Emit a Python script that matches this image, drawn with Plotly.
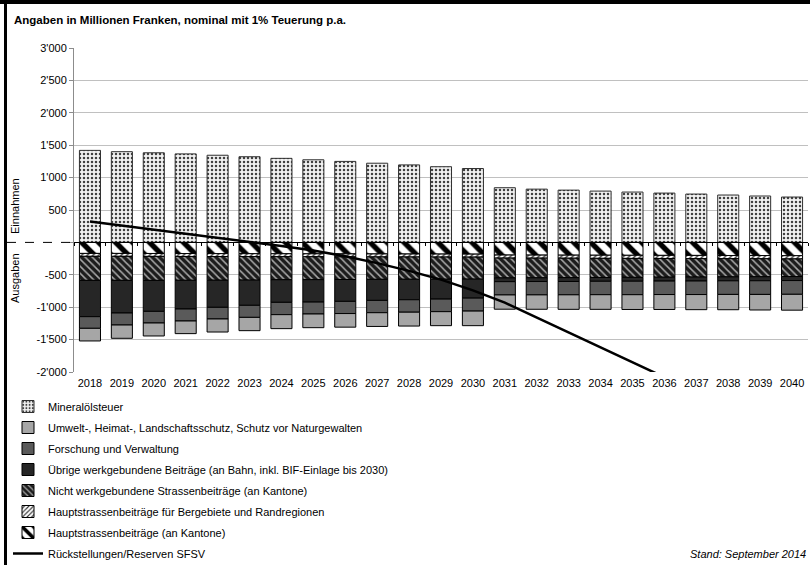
import plotly.graph_objects as go

# ---------------- data ----------------
years = [str(y) for y in range(2018, 2041)]

mineraloelsteuer = [1420, 1400, 1383, 1366, 1345, 1322, 1297, 1275, 1250, 1222, 1196, 1168, 1140,
                    844, 822, 807, 792, 777, 761, 746, 731, 716, 700]

hauptstrassen = [-170, -170, -171, -172, -173, -174, -175, -176, -177, -178, -179, -180, -181,
                 -195, -196, -197, -198, -199, -200, -201, -202, -203, -205]

bergebiete = [-45, -45, -45, -45, -45, -45, -45, -45, -46, -46, -46, -46, -46,
              -47, -47, -47, -48, -48, -48, -49, -49, -49, -50]

nicht_werkgebunden = [-371, -371, -370, -368, -366, -363, -356, -354, -349, -346, -344, -342, -340,
                      -306, -303, -300, -295, -292, -289, -285, -281, -278, -272]

uebrige_werkgebunden = [-560, -504, -478, -443, -418, -389, -349, -346, -338, -325, -316, -307, -293,
                        -58, -58, -59, -59, -60, -60, -61, -61, -62, -62]

forschung = [-180, -185, -180, -185, -180, -186, -190, -184, -188, -190, -192, -194, -200,
             -205, -206, -206, -207, -208, -208, -209, -210, -211, -212]

umwelt = [-195, -205, -200, -195, -201, -205, -216, -211, -210, -212, -214, -216, -225,
          -220, -222, -224, -226, -228, -230, -233, -236, -240, -245]

rueckstellungen = [324, 262, 198, 135, 70, 8, -57, -125, -215, -320, -440, -575, -740,
                   -930, -1160, -1390, -1620, -1850, -2080, None, None, None, None]

y_tickvals = [-2000, -1500, -1000, -500, 0, 500, 1000, 1500, 2000, 2500, 3000]
y_ticktext = ["-2'000", "-1'500", "-1'000", "-500", "", "500", "1'000", "1'500", "2'000", "2'500", "3'000"]

# ---------------- layout helpers ----------------
W, H = 810, 573
L, R, T = 74, 2, 48
PLOT_BOTTOM = 372
B = H - PLOT_BOTTOM
PW = W - L - R
PH = H - T - B


def px_x(px):
    return (px - L) / PW


def px_y(py):
    return (PLOT_BOTTOM - py) / PH


FONT = "Liberation Sans, Arial, sans-serif"
OUT = dict(color="black", width=1)

fig = go.Figure()

fig.add_trace(go.Bar(
    x=years, y=mineraloelsteuer, name="Mineralölsteuer", legendrank=1, legendgroup="g1",
    marker=dict(color="#f0f0f0", line=dict(color="#303030", width=1),
                pattern=dict(shape=".", bgcolor="#f2f2f2", fgcolor="#404040", size=4, solidity=0.3,
                             fillmode="replace"))))

fig.add_trace(go.Bar(
    x=years, y=hauptstrassen, name="Hauptstrassenbeiträge (an Kantone)", legendrank=7, legendgroup="g7",
    marker=dict(color="white", line=OUT,
                pattern=dict(shape="\\", bgcolor="white", fgcolor="black", size=12, solidity=0.45,
                             fillmode="replace"))))

fig.add_trace(go.Bar(
    x=years, y=bergebiete, name="Hauptstrassenbeiträge für Bergebiete und Randregionen", legendrank=6,
    legendgroup="g6",
    marker=dict(color="white", line=OUT,
                pattern=dict(shape="/", bgcolor="white", fgcolor="#303030", size=4, solidity=0.35,
                             fillmode="replace"))))

fig.add_trace(go.Bar(
    x=years, y=nicht_werkgebunden, name="Nicht werkgebundene Strassenbeiträge (an Kantone)", legendrank=5,
    legendgroup="g5",
    marker=dict(color="#202020", line=OUT,
                pattern=dict(shape="\\", bgcolor="#1c1c1c", fgcolor="#a8a8a8", size=5, solidity=0.3,
                             fillmode="replace"))))

fig.add_trace(go.Bar(
    x=years, y=uebrige_werkgebunden,
    name="Übrige werkgebundene Beiträge (an Bahn, inkl. BIF-Einlage bis 2030)", legendrank=4, legendgroup="g4",
    marker=dict(color="#262626", line=OUT)))

fig.add_trace(go.Bar(
    x=years, y=forschung, name="Forschung und Verwaltung", legendrank=3, legendgroup="g3",
    marker=dict(color="#5a5a5a", line=OUT)))

fig.add_trace(go.Bar(
    x=years, y=umwelt, name="Umwelt-, Heimat-, Landschaftsschutz, Schutz vor Naturgewalten", legendrank=2,
    legendgroup="g2",
    marker=dict(color="#a6a6a6", line=OUT)))

fig.add_trace(go.Scatter(
    x=years, y=rueckstellungen, name="Rückstellungen/Reserven SFSV", legendrank=8, legendgroup="g8",
    mode="lines", line=dict(color="black", width=2.5)))

fig.update_layout(
    width=W, height=H, autosize=False,
    margin=dict(l=L, r=R, t=T, b=B, pad=0),
    paper_bgcolor="white", plot_bgcolor="white",
    barmode="relative", bargap=0.34,
    font=dict(family=FONT, size=11, color="black"),
    showlegend=True,
    legend=dict(x=px_x(8), y=px_y(392), xanchor="left", yanchor="top",
                bgcolor="rgba(0,0,0,0)", borderwidth=0, tracegroupgap=2,
                font=dict(family=FONT, size=11, color="black")),
    xaxis=dict(type="category", anchor="free", position=0.4,
               showline=True, linecolor="black", linewidth=1,
               ticks="outside", ticklen=3, tickcolor="black", tickson="boundaries",
               showgrid=False, ticklabelstandoff=130, tickangle=0,
               tickfont=dict(family=FONT, size=11, color="black")),
    yaxis=dict(range=[-2000, 3000], tickvals=y_tickvals, ticktext=y_ticktext,
               showgrid=True, gridcolor="#c0c0c0", gridwidth=1,
               showline=True, linecolor="#8c8c8c", linewidth=1,
               ticks="outside", ticklen=4, tickcolor="#8c8c8c",
               zeroline=False,
               tickfont=dict(family=FONT, size=11, color="black")),
)

annotations = [
    dict(text="<b>Angaben in Millionen Franken, nominal mit 1% Teuerung p.a.</b>",
         x=px_x(12), y=px_y(20), xref="paper", yref="paper", xanchor="left", yanchor="middle",
         showarrow=False, font=dict(family=FONT, size=11.5, color="black")),
    dict(text="Einnahmen", x=px_x(15), y=px_y(206), xref="paper", yref="paper", textangle=-90,
         xanchor="center", yanchor="middle", showarrow=False, font=dict(family=FONT, size=11, color="black")),
    dict(text="Ausgaben", x=px_x(15), y=px_y(278), xref="paper", yref="paper", textangle=-90,
         xanchor="center", yanchor="middle", showarrow=False, font=dict(family=FONT, size=11, color="black")),
    dict(text="<i>Stand: September 2014</i>", x=px_x(808), y=px_y(554), xref="paper", yref="paper",
         xanchor="right", yanchor="middle", showarrow=False, font=dict(family=FONT, size=11, color="black")),
]
fig.update_layout(annotations=annotations)

shapes = [
    # dashed separator left of the axis at zero
    dict(type="line", xref="paper", yref="y", x0=px_x(7), x1=0, y0=0, y1=0,
         line=dict(color="black", width=1, dash="dash")),
    # frame: top and left
    dict(type="line", xref="paper", yref="paper", x0=px_x(0), x1=px_x(W), y0=px_y(2), y1=px_y(2),
         line=dict(color="black", width=4)),
    dict(type="line", xref="paper", yref="paper", x0=px_x(5.5), x1=px_x(5.5), y0=px_y(0), y1=px_y(H),
         line=dict(color="black", width=3)),
]
fig.update_layout(shapes=shapes)

fig.write_html("out.html", config=dict(displayModeBar=False, responsive=False),
               post_script="document.body.style.margin='0';document.body.style.overflow='hidden';")
